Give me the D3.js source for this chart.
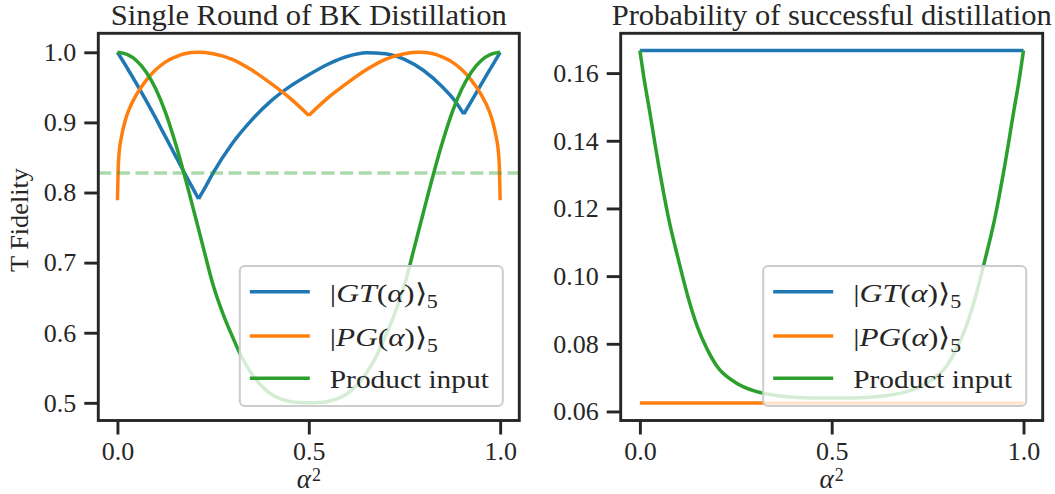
<!DOCTYPE html>
<html><head><meta charset="utf-8">
<script src="https://cdn.jsdelivr.net/npm/d3@7"></script>
<style>
body{margin:0;background:#fff}
text{font-family:"Liberation Serif","Times New Roman",serif;fill:#262626}
</style>
</head><body>
<svg id="c" width="1055" height="494"></svg>
<script>
// ---------- data ----------
const seriesNames = ["GT", "PG", "Product input"];
const colors = ["#1f77b4", "#ff7f0e", "#2ca02c"];

// Left: T fidelity after a single round of BK distillation
const gtX = [0, 0.025, 0.05, 0.075, 0.1, 0.125, 0.15, 0.175, 0.195, 0.212, 0.23, 0.25, 0.3, 0.35, 0.4, 0.45, 0.5, 0.55, 0.6, 0.65, 0.7, 0.75, 0.8, 0.85, 0.88, 0.905, 0.93, 0.95, 0.975, 1.0];
const gtY = [1.0, 0.978, 0.955, 0.931, 0.906, 0.880, 0.854, 0.828, 0.808, 0.791, 0.808, 0.828, 0.870, 0.903, 0.930, 0.951, 0.968, 0.983, 0.994, 0.9995, 0.998, 0.990, 0.974, 0.950, 0.932, 0.912, 0.935, 0.954, 0.977, 1.0];
const gtCusps = [0.212, 0.905];

const pgX = [0, 0.002, 0.005, 0.01, 0.02, 0.03, 0.05, 0.075, 0.1, 0.125, 0.15, 0.175, 0.21, 0.25, 0.3, 0.35, 0.4, 0.45, 0.5, 0.55, 0.6, 0.65, 0.7, 0.75, 0.79, 0.825, 0.85, 0.875, 0.9, 0.925, 0.95, 0.97, 0.98, 0.99, 0.995, 0.998, 1.0];
const pgY = [0.789, 0.835, 0.860, 0.878, 0.902, 0.918, 0.940, 0.960, 0.975, 0.986, 0.993, 0.998, 1.0, 0.998, 0.990, 0.975, 0.956, 0.935, 0.910, 0.935, 0.956, 0.975, 0.990, 0.998, 1.0, 0.998, 0.993, 0.986, 0.975, 0.960, 0.940, 0.918, 0.902, 0.878, 0.860, 0.835, 0.789];
const pgCusps = [0.5];

const prodX = [0, 0.025, 0.05, 0.075, 0.1, 0.125, 0.15, 0.175, 0.2, 0.225, 0.25, 0.275, 0.3, 0.325, 0.35, 0.375, 0.4, 0.425, 0.45, 0.475, 0.5, 0.525, 0.55, 0.575, 0.6, 0.625, 0.65, 0.675, 0.7, 0.725, 0.75, 0.775, 0.8, 0.825, 0.85, 0.875, 0.9, 0.925, 0.95, 0.975, 1.0];
const prodY = [1.0, 0.997, 0.988, 0.972, 0.948, 0.915, 0.873, 0.825, 0.773, 0.720, 0.668, 0.628, 0.595, 0.565, 0.542, 0.525, 0.513, 0.506, 0.502, 0.5003, 0.5, 0.5003, 0.502, 0.506, 0.513, 0.525, 0.542, 0.565, 0.595, 0.628, 0.668, 0.720, 0.773, 0.825, 0.873, 0.915, 0.948, 0.972, 0.988, 0.997, 1.0];

const threshold = 0.828;

// Right: probability of successful distillation
const probGtX = [0, 1];
const probGtY = [0.1667, 0.1667];
const probPgX = [0, 1];
const probPgY = [0.0625, 0.0625];
const probProdX = [0, 0.01, 0.025, 0.05, 0.075, 0.1, 0.125, 0.15, 0.175, 0.2, 0.25, 0.3, 0.35, 0.4, 0.45, 0.5, 0.55, 0.6, 0.65, 0.7, 0.75, 0.8, 0.825, 0.85, 0.875, 0.9, 0.925, 0.95, 0.975, 0.99, 1.0];
const probProdY = [0.1667, 0.159, 0.149, 0.132, 0.117, 0.105, 0.094, 0.085, 0.0785, 0.0735, 0.0685, 0.066, 0.0648, 0.0642, 0.064, 0.064, 0.064, 0.0642, 0.0648, 0.066, 0.0685, 0.0735, 0.0785, 0.085, 0.094, 0.105, 0.117, 0.132, 0.149, 0.159, 0.1667];

const xTicks = [0.0, 0.5, 1.0];
const yTicksLeft = [0.5, 0.6, 0.7, 0.8, 0.9, 1.0];
const yTicksRight = [0.06, 0.08, 0.10, 0.12, 0.14, 0.16];
const titles = ["Single Round of BK Distillation", "Probability of successful distillation"];
const yLabelLeft = "T Fidelity";

// ---------- drawing ----------
const svg = d3.select("#c");
svg.append("rect").attr("width", 1055).attr("height", 494).attr("fill", "#fff");
const INK = "#262626";

function zip(xs, ys) { return xs.map((x, i) => [x, ys[i]]); }

function splitAt(pts, cusps) {
  const segs = []; let cur = [];
  pts.forEach(p => {
    cur.push(p);
    if (cusps.some(c => Math.abs(c - p[0]) < 1e-9)) { segs.push(cur); cur = [p]; }
  });
  if (cur.length > 1) segs.push(cur);
  return segs;
}

function panel(cfg) {
  const x = d3.scaleLinear().domain([-0.05, 1.05]).range([cfg.x0, cfg.x1]);
  const y = d3.scaleLinear().domain(cfg.yDomain).range([cfg.y1, cfg.y0]);
  const g = svg.append("g");

  const line = d3.line().x(d => x(d[0])).y(d => y(d[1])).curve(d3.curveMonotoneX);
  cfg.series.forEach(s => {
    const pts = zip(s.x, s.y);
    const segs = splitAt(pts, s.cusps || []);
    g.append("path").attr("d", segs.map(sg => line(sg)).join(""))
      .attr("fill", "none").attr("stroke", s.color).attr("stroke-width", 3.5)
      .attr("stroke-linejoin", "round").attr("stroke-linecap", "butt");
  });
  if (cfg.hline != null) {
    g.append("line").attr("x1", cfg.x0).attr("x2", cfg.x1)
      .attr("y1", y(cfg.hline)).attr("y2", y(cfg.hline))
      .attr("stroke", colors[2]).attr("stroke-opacity", 0.4)
      .attr("stroke-width", 3.5).attr("stroke-dasharray", "13,5.6");
  }

  const ax = g.append("g").attr("transform", `translate(0,${cfg.y1})`)
    .call(d3.axisBottom(x).tickValues(xTicks).tickFormat(d3.format(".1f")).tickSize(14).tickPadding(7));
  const ay = g.append("g").attr("transform", `translate(${cfg.x0},0)`)
    .call(d3.axisLeft(y).tickValues(cfg.yTicks).tickFormat(d3.format(cfg.yFmt)).tickSize(14).tickPadding(8));
  [ax, ay].forEach(a => {
    a.select(".domain").remove();
    a.selectAll(".tick line").attr("stroke", INK).attr("stroke-width", 2.9);
    a.selectAll(".tick text").attr("font-family", "Liberation Serif, serif")
      .attr("font-size", 26).attr("fill", INK);
  });

  g.append("rect").attr("x", cfg.x0).attr("y", cfg.y0)
    .attr("width", cfg.x1 - cfg.x0).attr("height", cfg.y1 - cfg.y0)
    .attr("fill", "none").attr("stroke", INK).attr("stroke-width", 2.9);

  const cx = (cfg.x0 + cfg.x1) / 2;
  g.append("text").attr("x", cx).attr("y", 25).attr("text-anchor", "middle")
    .attr("font-size", 29).attr("textLength", cfg.titleW).attr("lengthAdjust", "spacingAndGlyphs")
    .text(cfg.title);

  // x label  α²
  const xl = g.append("text").attr("x", cx).attr("y", 488).attr("text-anchor", "middle").attr("font-size", 27);
  xl.append("tspan").attr("font-style", "italic").text("α");
  xl.append("tspan").attr("font-size", 18).attr("dy", -7).attr("dx", 1).text("2");

  if (cfg.ylabel) {
    g.append("text").attr("transform", `translate(28,220) rotate(-90)`)
      .attr("text-anchor", "middle").attr("font-size", 26)
      .attr("textLength", 104).attr("lengthAdjust", "spacingAndGlyphs").text(cfg.ylabel);
  }

  const lx = cfg.x1 - 16.5 - 263, ly = 266;
  const lg = g.append("g");
  lg.append("rect").attr("x", lx).attr("y", ly).attr("width", 263).attr("height", 140)
    .attr("rx", 5).attr("fill", "#fff").attr("fill-opacity", 0.8)
    .attr("stroke", "#cccccc").attr("stroke-width", 2);
  const rows = [25.7, 70, 112.3];
  rows.forEach((dy, i) => {
    const yy = ly + dy;
    lg.append("line").attr("x1", lx + 10).attr("x2", lx + 70).attr("y1", yy).attr("y2", yy)
      .attr("stroke", colors[i]).attr("stroke-width", 3.5);
    const t = lg.append("text").attr("x", lx + 90).attr("y", yy + 10).attr("font-size", 26);
    if (i < 2) {
      t.attr("textLength", 108).attr("lengthAdjust", "spacingAndGlyphs");
      t.append("tspan").text("|");
      t.append("tspan").attr("font-style", "italic").text(i === 0 ? "GT" : "PG");
      t.append("tspan").text("(");
      t.append("tspan").attr("font-style", "italic").text("α");
      t.append("tspan").text(")⟩");
      t.append("tspan").attr("font-size", 18).attr("dy", 6).text("5");
    } else {
      t.attr("textLength", 159).attr("lengthAdjust", "spacingAndGlyphs").text(seriesNames[2]);
    }
  });
}

panel({
  x0: 98.3, x1: 519.3, y0: 33.3, y1: 420.5,
  yDomain: [0.4748, 1.0271], yTicks: yTicksLeft, yFmt: ".1f",
  title: titles[0], titleW: 396, ylabel: yLabelLeft, hline: threshold,
  series: [
    {x: gtX, y: gtY, color: colors[0], cusps: gtCusps},
    {x: pgX, y: pgY, color: colors[1], cusps: pgCusps},
    {x: prodX, y: prodY, color: colors[2]}
  ]
});

panel({
  x0: 620.7, x1: 1042.7, y0: 33.3, y1: 420.5,
  yDomain: [0.05733, 0.17176], yTicks: yTicksRight, yFmt: ".2f",
  title: titles[1], titleW: 440, ylabel: null, hline: null,
  series: [
    {x: probGtX, y: probGtY, color: colors[0]},
    {x: probPgX, y: probPgY, color: colors[1]},
    {x: probProdX, y: probProdY, color: colors[2]}
  ]
});
</script>
</body></html>
